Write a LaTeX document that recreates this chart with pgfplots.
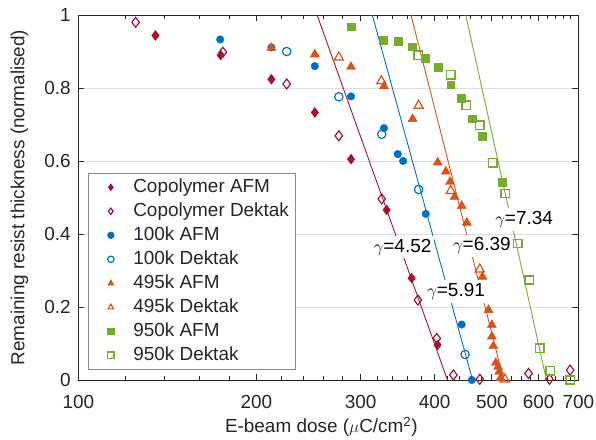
\documentclass[border=0pt]{standalone}
\usepackage{pgfplots}
\pgfplotsset{compat=1.18}
\usepackage{fontspec}
\setmainfont{Liberation Sans}
\definecolor{cop}{HTML}{A2142F}
\definecolor{hk}{HTML}{0072BD}
\definecolor{ok}{HTML}{D95319}
\definecolor{gk}{HTML}{77AC30}
\definecolor{ax}{HTML}{262626}
\definecolor{gridc}{HTML}{DEDEDE}
\definecolor{lgc}{HTML}{8C8C8C}
\newcommand{\ff}{\fontsize{19}{22}\selectfont}
\begin{document}
\begin{tikzpicture}
\path[use as bounding box] (-78.3bp,-60bp) rectangle (517.7bp,380bp);
\begin{axis}[
  at={(0,0)}, anchor=south west,
  scale only axis, width=500bp, height=365bp,
  xmode=log, xmin=100, xmax=700, ymin=0, ymax=1,
  clip=false,
  xtick={100,200,300,400,500,600,700},
  xticklabels={100,200,300,400,500,600,700},
  minor xtick={120,140,160,180,220,240,260,280,320,340,360,380,420,440,460,480,520,540,560,580,620,640,660,680},
  ytick={0,0.2,0.4,0.6,0.8,1},
  yticklabels={0,0.2,0.4,0.6,0.8,1},
  tick align=inside,
  major tick length=6bp, minor tick length=4bp,
  ymajorgrids, major grid style={color=gridc, line width=0.8bp},
  axis line style={ax, line width=0.9bp},
  tick style={ax, line width=0.8bp},
  font=\ff,
  /pgf/number format/assume math mode=true,
  ticklabel style={text=ax, font=\ff},
  xticklabel style={anchor=north, inner sep=0pt, yshift=-15bp},
  yticklabel style={anchor=east, inner sep=0pt, xshift=-7.5bp},
  xlabel={E-beam dose ($\mu$C/cm\textsuperscript{2})},
  ylabel={Remaining resist thickness (normalised)},
  xlabel style={at={(axis description cs:0.486,-0.1274)}, anchor=center, text=ax, inner sep=0pt, font=\ff},
  ylabel style={at={(axis description cs:-0.1176,0.5)}, anchor=center, text=ax, inner sep=0pt, font=\ff},
  legend cell align=left,
  legend image code/.code={\path (0bp,0bp) (28.5bp,0bp); \draw[#1] plot coordinates {(15.3bp,0bp)};},
  legend image post style={mark size=3.2bp},
  legend style={at={(axis description cs:0.0194,0.0274)}, anchor=south west,
    draw=lgc, line width=0.8bp, fill=white, inner xsep=6.4bp, inner ysep=2.3bp,
    row sep=0pt, font=\ff,
    nodes={inner xsep=0pt, inner ysep=2.75bp, text height=14bp, text depth=4.5bp, text=ax},
    /tikz/every odd column/.style={column sep=8.5bp},
    /tikz/every even column/.style={column sep=0pt}},
]
% fit lines
\addplot[cop, line width=0.9bp, forget plot] coordinates {(253.3,1) (420.6,0)};
\addplot[hk, line width=0.9bp, forget plot] coordinates {(314,1) (463.7,0)};
\addplot[ok, line width=0.9bp, forget plot] coordinates {(365,1) (523.5,0)};
\addplot[gk, line width=0.9bp, forget plot] coordinates {(451.7,1) (618.2,0)};
% data
\addplot[only marks, mark=diamond*, mark size=5bp, color=cop, mark options={fill=cop}] coordinates {
(135,0.944) (174,0.890) (212,0.824) (251,0.733) (289,0.605) (332,0.466) (366,0.279) (404.7,0.096)};
\addlegendentry{Copolymer AFM}
\addplot[only marks, mark=diamond, mark size=5bp, color=cop, line width=1.2bp] coordinates {
(125,0.98) (175.5,0.898) (225,0.811) (275.6,0.669) (325.7,0.496) (375,0.219) (403.5,0.114) (430.5,0.014) (477,0.002) (576.7,0.018) (625.8,0.002) (678,0.027)};
\addlegendentry{Copolymer Dektak}
\addplot[only marks, mark=*, mark size=3.8bp, color=hk, mark options={fill=hk}] coordinates {
(173.7,0.933) (212,0.911) (251,0.860) (289,0.777) (328.6,0.690) (346.7,0.619) (354,0.600) (386.6,0.455) (444.6,0.152) (462.4,0.0)};
\addlegendentry{100k AFM}
\addplot[only marks, mark=o, mark size=4.2bp, color=hk, line width=1.2bp] coordinates {
(225,0.90) (275.6,0.776) (325.7,0.673) (376,0.522) (450.5,0.070)};
\addlegendentry{100k Dektak}
\addplot[only marks, mark=triangle*, mark size=5.3bp, color=ok, mark options={fill=ok}] coordinates {
(212,0.91) (251,0.892) (289,0.858) (328.6,0.805) (367.3,0.715) (405,0.596) (418,0.571) (425,0.543) (432.6,0.502) (444.6,0.477) (453.5,0.431) (482,0.283) (493.5,0.192) (500,0.151) (500,0.119) (503,0.093) (507.7,0.047) (512.3,0.036) (514.6,0.023) (517,0.005)};
\addlegendentry{495k AFM}
\addplot[only marks, mark=triangle, mark size=5.3bp, color=ok, line width=1.2bp] coordinates {
(275.6,0.884) (325.3,0.819) (376,0.752) (426,0.518) (477,0.303) (526,0.002)};
\addlegendentry{495k Dektak}
\addplot[only marks, mark=square*, mark size=3.9bp, color=gk, mark options={fill=gk}] coordinates {
(289.3,0.968) (328,0.932) (347.5,0.929) (367,0.913) (386,0.882) (406,0.856) (426,0.809) (444,0.771) (463.6,0.716) (482,0.667) (520,0.543)};
\addlegendentry{950k AFM}
\addplot[only marks, mark=square, mark size=4.2bp, color=gk, line width=1.5bp] coordinates {
(375.6,0.890) (426,0.836) (452.3,0.753) (477,0.698) (502,0.595) (527,0.511) (553,0.374) (578,0.274) (602.6,0.087) (627.4,0.025) (678,0.0)};
\addlegendentry{950k Dektak}
% gamma labels
\node[fill=white, inner sep=3bp, text=black, font=\ff] at (axis cs:353.2,0.364) {$\gamma$=4.52};
\node[fill=white, inner sep=3bp, text=black, font=\ff] at (axis cs:566.8,0.440) {$\gamma$=7.34};
\node[fill=white, inner sep=3bp, text=black, font=\ff] at (axis cs:480.8,0.367) {$\gamma$=6.39};
\node[fill=white, inner sep=3bp, text=black, font=\ff] at (axis cs:434.9,0.242) {$\gamma$=5.91};
\end{axis}
\end{tikzpicture}
\end{document}
